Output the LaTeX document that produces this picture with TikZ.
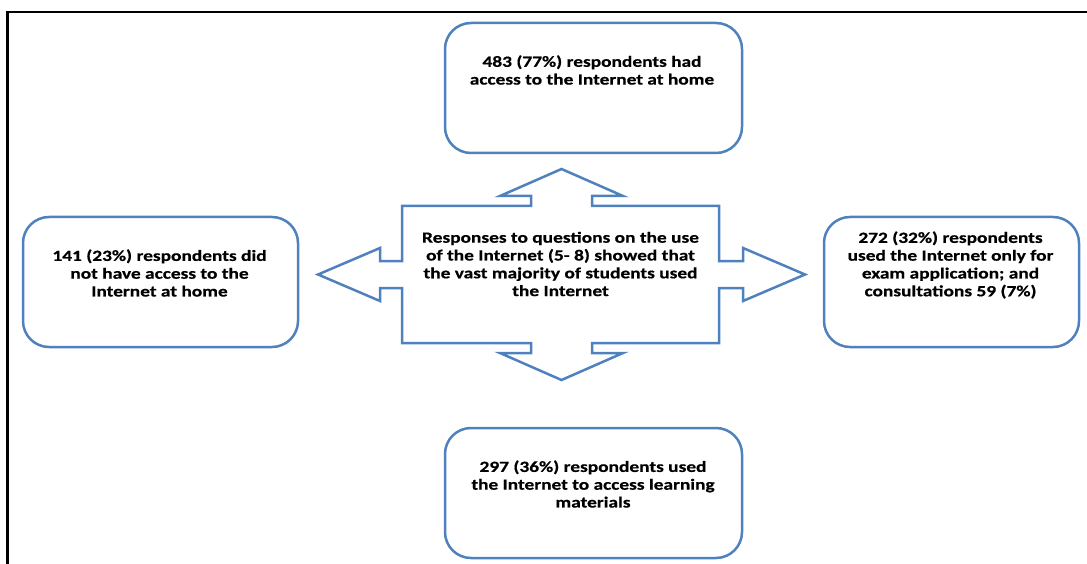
\documentclass[tikz,border=0pt]{standalone}
\usepackage{fontspec}
\setmainfont{Carlito}[FakeStretch=1.25, BoldFeatures={FakeBold=0.6}]
\definecolor{boxblue}{HTML}{4F81BD}
\begin{document}
\begin{tikzpicture}[x=1pt,y=-1pt,
  frame/.style={line width=2.2pt, black},
  infobox/.style={draw=boxblue, line width=2.5pt, rounded corners=26pt, inner sep=0pt},
  boxtext/.style={font=\bfseries\fontsize{15.5}{17.8}\selectfont, align=center, inner sep=0pt},
  crossarrow/.style={draw=boxblue, line width=2.5pt, line join=miter}]
\useasboundingbox (0,0) rectangle (1087,564);

% page frame (top and left edges)
\draw[frame] (7.5,564) -- (7.5,12) -- (1087,12);

% four outcome boxes
\node[infobox, minimum width=297pt, minimum height=130pt] (home)   at (593.5,88)  {};
\node[infobox, minimum width=275pt, minimum height=130pt] (nohome) at (160.5,282) {};
\node[infobox, minimum width=255pt, minimum height=130pt] (exam)   at (951.5,282) {};
\node[infobox, minimum width=297pt, minimum height=130pt] (learn)  at (593.5,493) {};

% four-way arrow around the central statement
\draw[crossarrow]
  (402,206) -- (531,206) -- (531,196) -- (500,196) -- (561.5,169) -- (623,196)
  -- (592,196) -- (592,206) -- (719,206) -- (719,261) -- (743,261) -- (743,248)
  -- (805,274.5) -- (743,301) -- (743,288) -- (719,288) -- (719,343) -- (592,343)
  -- (592,353) -- (623,353) -- (561.5,380) -- (500,353) -- (531,353) -- (531,343)
  -- (402,343) -- (402,288) -- (380,288) -- (380,301) -- (318,274.5) -- (380,248)
  -- (380,261) -- (402,261) -- cycle;

% texts
\node[boxtext] (hub) at (560.5,264)
  {Responses to questions on the use\\of the Internet (5- 8) showed that\\the vast majority of students used\\the Internet};
\node[boxtext] (homeT) at (592,70)
  {483 (77\%) respondents had\\access to the Internet at home};
\node[boxtext] (nohomeT) at (159.5,273)
  {141 (23\%) respondents did\\not have access to the\\Internet at home};
\node[boxtext] (examT) at (950.5,265)
  {272 (32\%) respondents\\used the Internet only for\\exam application; and\\consultations 59 (7\%)};
\node[boxtext] (learnT) at (593,484)
  {297 (36\%) respondents used\\the Internet to access learning\\materials};
\end{tikzpicture}
\end{document}
